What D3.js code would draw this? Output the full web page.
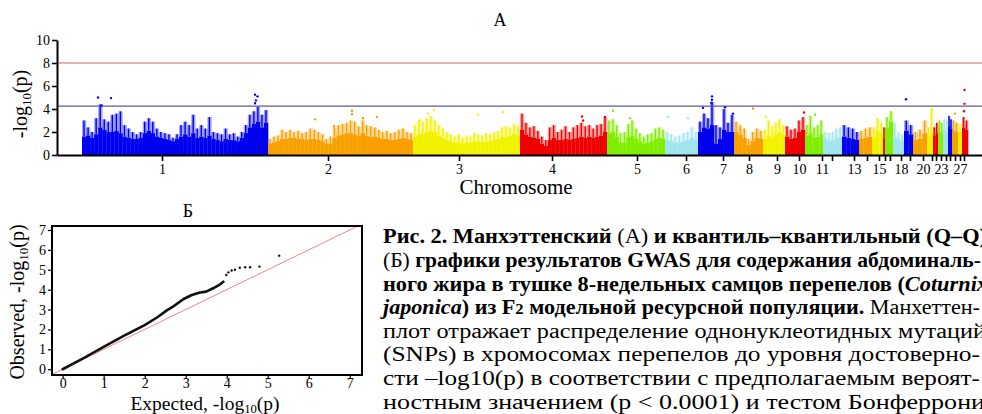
<!DOCTYPE html>
<html>
<head>
<meta charset="utf-8">
<script src="https://cdn.jsdelivr.net/npm/d3@7"></script>
<style>
  body { margin: 0; background: #fff; }
  svg { display: block; font-family: "Liberation Serif", "Times New Roman", serif; }
</style>
</head>
<body>
<svg id="fig" width="982" height="414"></svg>
<script>
// ---- Manhattan plot data ----
// chromosome lengths in Mb, in genome order 1..28
const chrLen = [186,145,107,87,58,33,36,29,22,20,18,19,17,13,11,2,8,11,9,14,6,5,5,5,4,6,4,6]
// tick positions on the cumulative genome axis (Mb)
const chrTick = [80,246,377,470,555,604,641,667,695,717,740,750,772,785,797,803,808,819,828,841,850,854,859,864,868,873,878,882]
const chrLabeled = ["1","2","3","4","5","6","7","8","9","10","11","13","15","18","20","23","27"]
const chrColors = ["#0000f0","#f7a000","#f2f200","#ee0000","#80ee00","#a0e4f0"]

// top of the solid SNP mass in each bin of a chromosome, -log10(p)
const cloudLo = [
  [1.6,1.7,1.5,1.8,2.4,2.2,2.0,2.0,2.1,1.9,1.6,1.5,1.4,1.4,1.5,1.9,2.1,1.9,1.6,1.5,1.4,1.3,1.2,1.4,1.6,1.8,1.6,1.9,1.5,1.6,1.5,1.7,1.4,1.3,1.2,1.4,1.3,1.3,1.2,1.5,1.9,2.4,2.7,2.9,2.4,2.8],
  [1.0,1.1,1.2,1.4,1.4,1.5,1.5,1.4,1.4,1.3,1.4,1.4,1.3,1.2,1.0,1.0,1.5,1.7,1.8,1.9,1.9,1.8,1.7,1.9,1.7,1.6,1.6,1.5,1.4,1.4,1.3,1.3,1.4,1.5,1.4,1.3],
  [1.6,1.8,1.9,2.0,2.1,2.0,1.7,1.5,1.3,1.2,1.1,1.1,1.0,1.1,1.1,1.2,1.2,1.1,1.2,1.2,1.3,1.4,1.6,1.6,1.7,1.8,1.7],
  [2.2,1.8,1.6,1.5,1.4,1.0,0.8,1.3,1.5,1.3,1.3,1.4,1.3,1.4,1.5,1.6,1.5,1.6,1.5,1.6,1.7,2.0],
  [1.9,2.0,1.6,1.1,1.1,1.6,1.7,1.4,1.2,1.0,1.1,1.2,1.4,1.5,1.4],
  [1.3,1.2,1.1,1.1,1.2,1.3,1.5,1.3],
  [2.0,2.4,2.3,2.6,1.0,1.4,2.2,2.0,2.0],
  [2.0,1.8,1.5,0.9,1.2,1.5,1.4],
  [1.4,1.7,1.6,1.8,2.0,1.8],
  [1.6,1.4,1.5,2.0,2.2],
  [1.7,1.9,1.5,1.6,1.8],
  [1.4,1.2,1.3,1.5,1.6],
  [1.6,1.5,1.4,1.3],
  [1.4,1.5,1.6],
  [1.6,2.1,1.9],
  [1.5],
  [2.4,2.9],
  [1.5,1.3,1.2],
  [2.1,1.8],
  [1.3,1.4,1.9],
  [1.6,2.0],
  [1.7,1.9],
  [2.0,1.9],
  [2.2,2.0],
  [2.5,2.3],
  [2.1,2.0],
  [2.0],
  [2.4,2.2]
]
// tallest column of SNPs in each bin
const cloudHi = [
  [3.0,2.4,2.0,3.2,4.4,3.1,2.9,3.5,3.6,3.8,2.6,2.3,2.0,1.8,2.0,2.9,3.2,2.9,2.3,2.0,1.9,1.8,1.5,1.8,2.6,2.9,2.6,3.5,2.3,2.6,2.3,3.3,2.0,1.9,1.8,2.3,1.8,1.9,1.6,2.0,2.6,3.5,3.8,4.2,3.5,3.9],
  [1.4,1.6,1.7,2.2,2.0,2.2,2.0,2.1,1.9,2.0,2.3,2.2,2.0,1.8,1.4,1.6,2.4,2.6,2.7,2.8,3.0,2.9,2.5,3.0,2.6,2.5,2.4,2.2,2.0,2.1,1.9,2.0,2.2,2.3,2.0,1.9],
  [2.6,3.0,2.9,3.2,3.4,3.0,2.6,2.3,2.0,1.8,1.6,1.8,1.5,1.7,1.6,1.9,1.8,1.7,1.9,1.8,2.0,2.1,2.4,2.5,2.4,2.7,2.5],
  [3.6,2.8,2.4,2.5,2.1,1.6,1.3,2.4,2.6,2.0,2.2,2.5,2.0,2.4,2.6,2.8,2.5,2.6,2.3,2.6,2.7,3.3],
  [3.0,3.1,2.6,1.9,2.0,2.7,3.0,2.3,1.9,1.6,1.8,1.9,2.3,2.4,2.2],
  [2.0,1.8,1.6,1.7,1.9,2.0,2.4,2.0],
  [2.9,3.6,3.2,4.6,2.6,2.4,4.0,2.8,3.5],
  [2.9,2.6,2.3,1.4,2.0,2.3,2.1],
  [2.2,3.0,2.5,2.8,3.1,2.6],
  [2.5,2.2,2.3,3.0,3.3],
  [2.6,3.4,2.4,2.6,3.0],
  [2.0,1.9,2.0,2.3,2.4],
  [2.6,2.4,2.3,2.0],
  [2.1,2.3,2.4],
  [2.4,3.2,2.8],
  [2.4],
  [3.3,3.8],
  [2.8,2.0,1.8],
  [3.0,2.6],
  [2.0,2.2,3.0],
  [2.4,4.1],
  [2.4,2.8],
  [3.0,2.8],
  [3.1,3.0],
  [3.4,3.1],
  [3.0,2.8],
  [2.7],
  [3.3,3.0]
]
// isolated SNPs above the mass: [chromosome, position in chromosome (Mb), -log10(p)]
const topSnps = [
  [1,16,5.0],[1,29,4.95],[1,19.5,4.3],[1,173,5.25],[1,175.5,5.1],[1,173,4.5],[1,174,4.75],
  [2,47,3.1],[2,84,3.85],[2,84,3.55],[2,95,3.2],[2,109,3.3],[2,66,2.5],
  [3,15,3.6],[3,21,3.95],[3,7,3.0],[3,65,3.5],[3,90,3.75],
  [4,62,3.35],[4,63,3.0],[4,85,3.3],
  [5,6,3.85],[5,23,3.2],
  [6,3,3.3],[6,23,3.2],
  [7,14,5.1],[7,14,4.8],[7,13.5,4.55],[7,5,4.1],[7,27,4.15],[7,35,3.6],
  [8,19,4.05],[9,3,3.3],[10,19,3.7],[11,10,3.5],[19,2,4.85],[26,3,3.6],
  [28,2.5,5.65],[28,2.5,4.45],[28,2,3.8]
]
const genomeWideLine = 8
const suggestiveLine = 4.25
const manTicks = [0,2,4,6,8,10]

// ---- Q-Q plot data ----
// dense run of points: [expected, observed]
const qqCurve = [[0,0],[0.5,0.55],[1.0,1.12],[1.5,1.69],[2.0,2.22],[2.3,2.6],[2.54,2.96],[2.7,3.16],[2.95,3.53],[3.15,3.73],[3.35,3.86],[3.5,3.9],[3.67,4.07],[3.84,4.27],[3.92,4.4]]
// sparse tail
const qqTail = [[3.99,4.74],[4.04,4.87],[4.12,4.96],[4.2,5.0],[4.32,5.1],[4.45,5.13],[4.57,5.13],[4.8,5.16],[5.28,5.71]]
const qqTicks = [0,1,2,3,4,5,6,7]

// caption lines: [text, style]  b = bold, r = regular, bi = bold italic, bsub = small bold
const caption = [
  [["Рис. 2. Манхэттенский ","b"],["(А) ","r"],["и квантиль–квантильный (Q–Q)","b"]],
  [["(Б) ","r"],["графики результатов GWAS для содержания абдоминаль-","b"]],
  [["ного жира в тушке 8-недельных самцов перепелов (","b"],["Coturnix","bi"]],
  [["japonica","bi"],[") из F","b"],["2","bsub"],[" модельной ресурсной популяции.","b"],[" Манхеттен-","r"]],
  [["плот отражает распределение однонуклеотидных мутаций","r"]],
  [["(SNPs) в хромосомах перепелов до уровня достоверно-","r"]],
  [["сти –log10(p) в соответствии с предполагаемым вероят-","r"]],
  [["ностным значением (p < 0.0001) и тестом Бонферрони","r"]]
]
const captionEnds = [987,981,988,980,986,980,980,985]

const svg = d3.select("#fig")

// ================= Manhattan =================
const chrStart = []
chrLen.reduce((acc, l, i) => { chrStart[i] = acc; return acc + l }, 0)

const mx = d3.scaleLinear().domain([-25, 900]).range([57, 982])
const my = d3.scaleLinear().domain([0, 10]).range([155, 40])
const colorOf = c => chrColors[c % chrColors.length]

const bins = []
cloudHi.forEach((hs, c) => {
  const step = chrLen[c] / hs.length
  hs.forEach((h, i) => bins.push({
    c: c, x0: chrStart[c] + i * step, x1: chrStart[c] + (i + 1) * step,
    lo: cloudLo[c][i], hi: h
  }))
})

const gM = svg.append("g")

// sparse dots between the mass and the tallest column: lighter band
gM.selectAll(".halo").data(bins).join("rect")
  .attr("class", "halo")
  .attr("x", d => mx(d.x0))
  .attr("width", d => mx(d.x1) - mx(d.x0) + 0.3)
  .attr("y", d => my(d.hi))
  .attr("height", d => my(d.lo) - my(d.hi))
  .attr("fill", d => colorOf(d.c))
  .attr("opacity", 0.35)

gM.selectAll(".lo").data(bins).join("rect")
  .attr("class", "lo")
  .attr("x", d => mx(d.x0))
  .attr("width", d => mx(d.x1) - mx(d.x0) + 0.3)
  .attr("y", d => my(d.lo))
  .attr("height", d => my(0) - my(d.lo))
  .attr("fill", d => colorOf(d.c))

gM.selectAll(".hi").data(bins).join("rect")
  .attr("class", "hi")
  .attr("x", d => mx((d.x0 + d.x1) / 2) - 0.7)
  .attr("width", 1.4)
  .attr("y", d => my(d.hi))
  .attr("height", d => my(d.lo) - my(d.hi))
  .attr("fill", d => colorOf(d.c))

// threshold lines
gM.append("line")
  .attr("x1", mx.range()[0]).attr("x2", mx.range()[1])
  .attr("y1", my(genomeWideLine)).attr("y2", my(genomeWideLine))
  .attr("stroke", "#d99a9c").attr("stroke-width", 1.6)
gM.append("line")
  .attr("x1", mx.range()[0]).attr("x2", mx.range()[1])
  .attr("y1", my(suggestiveLine)).attr("y2", my(suggestiveLine))
  .attr("stroke", "#5a5a9e").attr("stroke-width", 1.4)

gM.selectAll(".snp").data(topSnps).join("circle")
  .attr("class", "snp")
  .attr("cx", d => mx(chrStart[d[0] - 1] + d[1]))
  .attr("cy", d => my(d[2]))
  .attr("r", 1.2)
  .attr("fill", d => colorOf(d[0] - 1))

// axes
const yAxM = gM.append("g")
  .attr("transform", `translate(${mx.range()[0]},0)`)
  .call(d3.axisLeft(my).tickValues(manTicks).tickSize(5).tickSizeOuter(0).tickPadding(2))
const xAxM = gM.append("g")
  .attr("transform", `translate(0,${my(0)})`)
  .call(d3.axisBottom(mx).tickValues(chrTick).tickSize(6).tickSizeOuter(0).tickPadding(3)
    .tickFormat((d, i) => chrLabeled.includes(String(i + 1)) ? String(i + 1) : ""))

;[yAxM, xAxM].forEach(a => {
  a.attr("font-family", null).attr("font-size", null)
  a.select(".domain").attr("stroke-width", 2)
  a.selectAll(".tick line").attr("stroke-width", 1.6)
  a.selectAll("text").style("font-size", "14px").attr("fill", "#000")
})

svg.append("text").attr("x", 500).attr("y", 26)
  .attr("text-anchor", "middle").style("font-size", "18px").text("А")

svg.append("text").attr("x", 516).attr("y", 194)
  .attr("text-anchor", "middle").style("font-size", "21px").text("Chromosome")

function logLabel(sel, prefix, shift) {
  sel.append("tspan").text(prefix + "-log")
  sel.append("tspan").attr("dy", shift).style("font-size", "0.65em").text("10")
  sel.append("tspan").attr("dy", -shift).text("(p)")
}

svg.append("text")
  .attr("transform", "translate(27,104) rotate(-90)")
  .attr("text-anchor", "middle").style("font-size", "20px")
  .call(logLabel, "", 4)

// ================= Q-Q =================
const qx = d3.scaleLinear().domain([-0.26, 7.3]).range([52, 362])
const qy = d3.scaleLinear().domain([-0.29, 7.2]).range([375, 226])

const gQ = svg.append("g")
gQ.append("clipPath").attr("id", "qqclip")
  .append("rect").attr("x", 52).attr("y", 226).attr("width", 310).attr("height", 149)

gQ.append("line").attr("clip-path", "url(#qqclip)")
  .attr("x1", qx(-0.3)).attr("y1", qy(-0.3))
  .attr("x2", qx(7.3)).attr("y2", qy(7.3))
  .attr("stroke", "#e88a8a").attr("stroke-width", 1)

gQ.append("path").datum(qqCurve)
  .attr("d", d3.line().x(d => qx(d[0])).y(d => qy(d[1])))
  .attr("fill", "none").attr("stroke", "#111").attr("stroke-width", 2.6)
  .attr("stroke-linecap", "round").attr("stroke-linejoin", "round")

gQ.selectAll(".tail").data(qqTail).join("circle")
  .attr("class", "tail")
  .attr("cx", d => qx(d[0])).attr("cy", d => qy(d[1])).attr("r", 1.2).attr("fill", "#111")

const yAxQ = gQ.append("g").attr("transform", "translate(52,0)")
  .call(d3.axisLeft(qy).tickValues(qqTicks).tickSize(4).tickSizeOuter(0).tickPadding(2))
const xAxQ = gQ.append("g").attr("transform", "translate(0,375)")
  .call(d3.axisBottom(qx).tickValues(qqTicks).tickSize(4).tickSizeOuter(0).tickPadding(1))
;[yAxQ, xAxQ].forEach(a => {
  a.attr("font-family", null).attr("font-size", null)
  a.select(".domain").remove()
  a.selectAll(".tick line").attr("stroke-width", 1.2)
  a.selectAll("text").style("font-size", "14px").attr("fill", "#000")
})
xAxQ.selectAll("text").attr("dy", "0.6em")

gQ.append("rect").attr("x", 52).attr("y", 226).attr("width", 310).attr("height", 149)
  .attr("fill", "none").attr("stroke", "#000").attr("stroke-width", 2)

svg.append("text").attr("x", 188).attr("y", 217)
  .attr("text-anchor", "middle").style("font-size", "18px").text("Б")

svg.append("text").attr("x", 205).attr("y", 409.5)
  .attr("text-anchor", "middle").style("font-size", "19.5px")
  .call(logLabel, "Expected, ", 3)

svg.append("text")
  .attr("transform", "translate(24,302) rotate(-90)")
  .attr("text-anchor", "middle").style("font-size", "20px")
  .call(logLabel, "Observed, ", 4)

// ================= caption =================
const cap = svg.append("g").style("font-size", "20px")
caption.forEach((line, i) => {
  const t = cap.append("text").attr("x", 383).attr("y", 243.3 + i * 23.6)
  line.forEach(([s, st]) => {
    const sp = t.append("tspan").text(s)
    if (st[0] === "b") sp.style("font-weight", "bold")
    if (st === "bi") sp.style("font-style", "italic")
    if (st === "bsub") sp.style("font-size", "15px")
  })
  t.attr("textLength", captionEnds[i] - 383).attr("lengthAdjust", "spacingAndGlyphs")
})
</script>
</body>
</html>
